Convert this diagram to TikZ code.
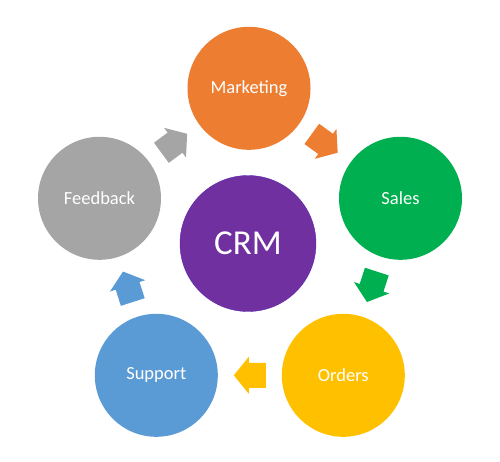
\documentclass[tikz,border=0pt]{standalone}
\usepackage{fontspec}
\setmainfont{Carlito}
\usetikzlibrary{calc}
\definecolor{cOrange}{HTML}{ED7D31}
\definecolor{cGreen}{HTML}{00B050}
\definecolor{cYellow}{HTML}{FFC000}
\definecolor{cBlue}{HTML}{5B9BD5}
\definecolor{cGray}{HTML}{A5A5A5}
\definecolor{cPurple}{HTML}{7030A0}
\tikzset{
  ring/.style={circle, fill=#1, draw=none, minimum size=123pt, inner sep=0pt,
    text=white, font=\fontsize{18.5}{20}\selectfont},
  hub/.style={circle, fill=cPurple, draw=cPurple!80!blue, line width=0.4pt,
    minimum size=136pt, inner sep=0pt, text=white, font=\fontsize{35}{40}\selectfont},
  blockarrow/.style={fill=#1, draw=none}
}
\begin{document}
\begin{tikzpicture}[x=1pt,y=-1pt]
  \useasboundingbox (0,0) rectangle (500,461);
  \node[ring=cOrange] (mkt) at (249,88.3) {Marketing};
  \node[ring=cGreen]  (sal) at (400.5,198.3) {Sales};
  \node[ring=cYellow] (ord) at (343.3,375.3) {Orders};
  \node[ring=cBlue]   (sup) at (156.3,375.3) {Support};
  \node[ring=cGray]   (fbk) at (99.5,198.3) {Feedback};
  \node[hub] (crm) at (248,243.5) {CRM};
  \foreach \a/\b/\c in {mkt/sal/cOrange, sal/ord/cGreen, ord/sup/cYellow, sup/fbk/cBlue, fbk/mkt/cGray}{
    \path let \p1=($(\b.center)-(\a.center)$), \n1={atan2(\y1,\x1)} in
      \pgfextra{\xdef\ang{\n1}};
    \begin{scope}[shift={($(\a.center)!0.5!(\b.center)$)}, rotate=\ang]
      \fill[blockarrow=\c] (-16,-12.5) -- (1,-12.5) -- (1,-18.5) -- (16,0)
        -- (1,18.5) -- (1,12.5) -- (-16,12.5) -- cycle;
    \end{scope}
  }
\end{tikzpicture}
\end{document}
